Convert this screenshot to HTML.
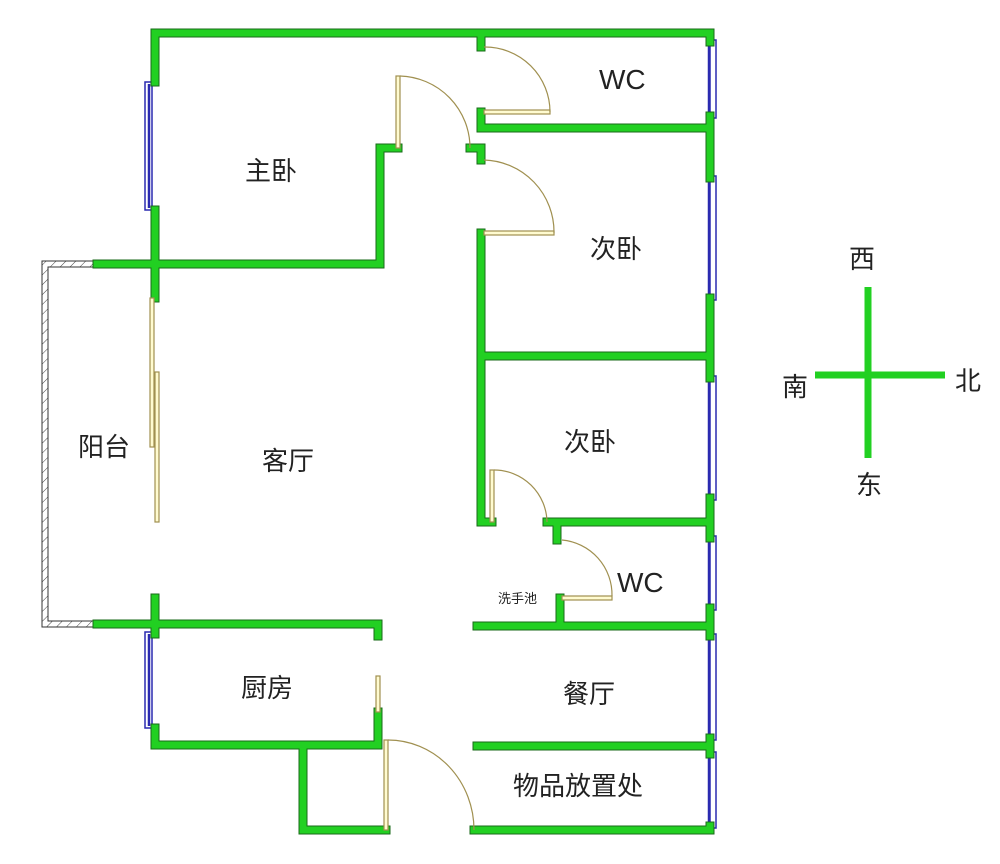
<!DOCTYPE html>
<html><head><meta charset="utf-8"><style>
body{margin:0;background:#fff}
text{font-family:"Liberation Sans","Noto Sans CJK SC",sans-serif;fill:#222}
</style></head><body>
<svg width="1000" height="859" viewBox="0 0 1000 859" xmlns="http://www.w3.org/2000/svg">
<defs><pattern id="h" width="7" height="7" patternUnits="userSpaceOnUse" patternTransform="rotate(45)"><line x1="0" y1="0" x2="0" y2="7" stroke="#444" stroke-width="1"/></pattern></defs>
<!-- balcony hatched wall -->
<path d="M97,264 H45 V624 H97" fill="none" stroke="#333" stroke-width="7"/>
<path d="M97,264 H45 V624 H97" fill="none" stroke="#fff" stroke-width="5"/>
<path d="M97,264 H45 V624 H97" fill="none" stroke="url(#h)" stroke-width="5"/>
<!-- windows -->
<g fill="none" stroke="#2a2ab0" stroke-width="1.5">
<rect x="145" y="82" width="7" height="128"/><rect x="145" y="632" width="7" height="96"/>
<rect x="710" y="40" width="6" height="78"/><rect x="710" y="176" width="6" height="124"/>
<rect x="710" y="376" width="6" height="124"/><rect x="710" y="536" width="6" height="74"/>
<rect x="710" y="634" width="6" height="106"/><rect x="710" y="752" width="6" height="76"/>
</g>
<g stroke="#2a2ab0" stroke-width="2.5">
<line x1="149" y1="84" x2="149" y2="208"/><line x1="149" y1="634" x2="149" y2="726"/>
<line x1="709" y1="42" x2="709" y2="116"/><line x1="709" y1="178" x2="709" y2="298"/>
<line x1="709" y1="378" x2="709" y2="498"/><line x1="709" y1="538" x2="709" y2="608"/>
<line x1="709" y1="636" x2="709" y2="738"/><line x1="709" y1="754" x2="709" y2="826"/>
</g>
<!-- walls -->
<g fill="none" stroke="#1a6a1a" stroke-width="9" stroke-linecap="square">
<path id="w" d="M155,82 V33 H710 V42 M710,116 V178 M710,298 V378 M710,498 V538 M710,608 V636 M710,738 V754 M710,826 V830 H474 M386,830 H303 V745 M155,210 V298 M97,264 H380 V148 H398 M470,148 H481 V160 M481,33 V47 M481,112 V128 H710 M481,233 V522 H492 M481,356 H710 M547,522 H710 M557,522 V540 M560,598 V626 M477,626 H710 M477,746 H710 M155,598 V634 M155,728 V745 H378 V712 M97,624 H378 V636"/>
</g>
<g fill="none" stroke="#22d022" stroke-width="7" stroke-linecap="square">
<use href="#w"/>
</g>
<!-- doors -->
<g fill="none" stroke="#a09050" stroke-width="1.2">
<rect x="396" y="76" width="4" height="72" fill="#fffbd0"/>
<path d="M400,76 A72,72 0 0 1 470,148"/>
<rect x="484" y="110" width="66" height="4" fill="#fffbd0"/>
<path d="M484,47 A65,65 0 0 1 550,112"/>
<rect x="484" y="231" width="70" height="4" fill="#fffbd0"/>
<path d="M484,160 A72,72 0 0 1 554,233"/>
<rect x="490" y="470" width="4" height="52" fill="#fffbd0"/>
<path d="M494,470 A53,53 0 0 1 547,522"/>
<rect x="562" y="596" width="50" height="4" fill="#fffbd0"/>
<path d="M562,540 A55,55 0 0 1 612,596"/>
<rect x="384" y="740" width="4" height="90" fill="#fffbd0"/>
<path d="M388,740 A86,90 0 0 1 474,830"/>
<rect x="150" y="298" width="4" height="149" fill="#fffbd0"/>
<rect x="155" y="372" width="4" height="150" fill="#fffbd0"/>
<rect x="376" y="676" width="4" height="36" fill="#fffbd0"/>
</g>
<!-- compass -->
<g stroke="#22d022" stroke-width="7"><line x1="868" y1="287" x2="868" y2="458"/><line x1="815" y1="375" x2="945" y2="375"/></g>
<g font-size="26">
<text x="849" y="268">西</text><text x="782" y="396">南</text><text x="955" y="390">北</text><text x="856" y="494">东</text>
<text x="245" y="180">主卧</text><text x="590" y="258">次卧</text><text x="564" y="451">次卧</text>
<text x="78" y="456">阳台</text><text x="262" y="470">客厅</text><text x="241" y="697">厨房</text>
<text x="563" y="703">餐厅</text><text x="513" y="795">物品放置处</text>
<text x="599" y="89" font-size="28">WC</text><text x="617" y="592" font-size="28">WC</text>
<text x="498" y="603" font-size="13">洗手池</text>
</g>
</svg>
</body></html>
